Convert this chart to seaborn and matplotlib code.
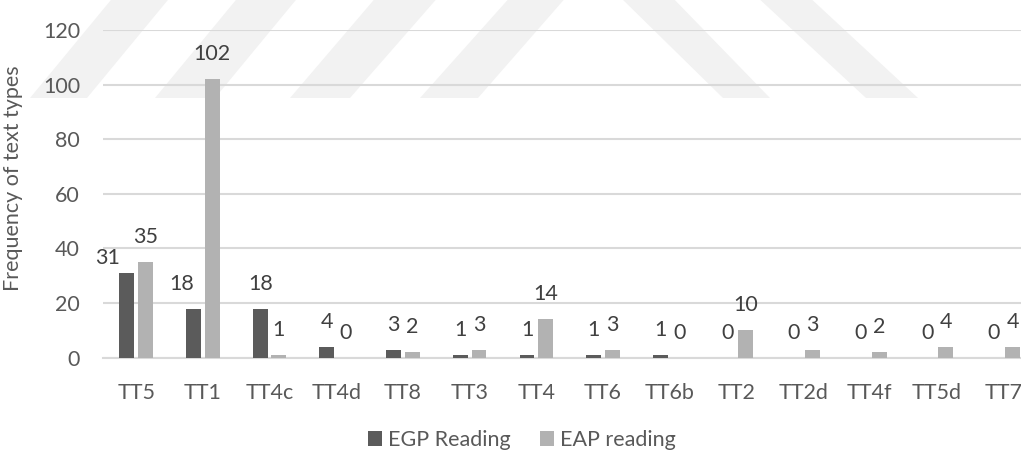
import matplotlib
matplotlib.use("Agg")
import matplotlib.pyplot as plt
from matplotlib.patches import Polygon
import pandas as pd
import seaborn as sns

# Text types and their frequencies in the two reading corpora
categories = ["TT5", "TT1", "TT4c", "TT4d", "TT8", "TT3", "TT4",
              "TT6", "TT6b", "TT2", "TT2d", "TT4f", "TT5d", "TT7"]
egp_reading = [31, 18, 18, 4, 3, 1, 1, 1, 1, 0, 0, 0, 0, 0]
eap_reading = [35, 102, 1, 0, 2, 3, 14, 3, 0, 10, 3, 2, 4, 4]
series_names = ["EGP Reading", "EAP reading"]
y_ticks = [0, 20, 40, 60, 80, 100, 120]

sns.set_style("white")
plt.rcParams["font.family"] = ["Lato", "DejaVu Sans"]

TEXT = "#595959"
LABEL = "#404040"
GRID = "#d9d9d9"
FS = 15.5

df = pd.DataFrame({
    "type": categories * 2,
    "series": [series_names[0]] * len(categories) + [series_names[1]] * len(categories),
    "freq": egp_reading + eap_reading,
})

W, H = 1021, 451
fig = plt.figure(figsize=(W / 100, H / 100), dpi=100)

# faint diagonal watermark bands behind the chart (pixel coords, y downward)
bands = [
    [(115, -5), (172, -5), (87, 98), (30, 98)],
    [(240, -5), (300, -5), (215, 98), (155, 98)],
    [(378, -5), (440, -5), (350, 98), (290, 98)],
    [(512, -5), (568, -5), (478, 98), (420, 98)],
    [(618, -5), (670, -5), (770, 98), (723, 98)],
    [(755, -5), (807, -5), (918, 98), (866, 98)],
]
for b in bands:
    pts = [(x / W, 1 - y / H) for x, y in b]
    fig.patches.append(Polygon(pts, closed=True, transform=fig.transFigure,
                               facecolor="#f2f2f2", edgecolor="none", zorder=-5))

ax = fig.add_axes([102.8 / W, 93.3 / H, 933.8 / W, 327.7 / H])
ax.set_facecolor("none")

sns.barplot(data=df, x="type", y="freq", hue="series", order=categories,
            hue_order=series_names, palette=["#5b5b5b", "#b2b2b2"],
            saturation=1, width=0.56, gap=0.2, linewidth=0, ax=ax, zorder=3)

ax.set_ylim(0, 120)
ax.set_xlim(-0.5, len(categories) - 0.5)
ax.set_yticks(y_ticks)
ax.yaxis.grid(True, color=GRID, linewidth=1.5, zorder=1)
ax.set_axisbelow(True)
for s in ["top", "right", "left"]:
    ax.spines[s].set_visible(False)
ax.spines["bottom"].set_color(GRID)
ax.spines["bottom"].set_linewidth(1.5)
ax.tick_params(axis="both", length=0, labelsize=FS, labelcolor=TEXT)
ax.tick_params(axis="x", pad=18)
ax.tick_params(axis="y", pad=16.4)
ax.set_xlabel("")
ax.set_ylabel("Frequency of text types", fontsize=FS, color=TEXT)
ax.yaxis.set_label_coords(-0.0855, 0.548)

# value labels above each bar; a couple are nudged aside to avoid crowding
nudges = {(0, 0): (-13.7, -7.2), (0, 1): (-8.6, 0)}
values = [egp_reading, eap_reading]
for si, cont in enumerate(ax.containers):
    for ci, bar in enumerate(cont):
        val = values[si][ci]
        dx, dy = nudges.get((si, ci), (0, 0))
        ax.annotate(f"{val}", (bar.get_x() + bar.get_width() / 2, val),
                    xytext=(dx, 18 + dy), textcoords="offset points",
                    ha="center", va="center", fontsize=FS, color=LABEL,
                    annotation_clip=False, zorder=4)

handles, labels = ax.get_legend_handles_labels()
ax.get_legend().remove()
leg = fig.legend(handles, labels, loc="center", bbox_to_anchor=(522 / W, 11 / H),
                 ncol=2, frameon=False, fontsize=FS, labelcolor=TEXT,
                 handlelength=0.65, handleheight=0.65, handletextpad=0.3,
                 columnspacing=1.35)

fig.savefig("out.png", dpi=100)
